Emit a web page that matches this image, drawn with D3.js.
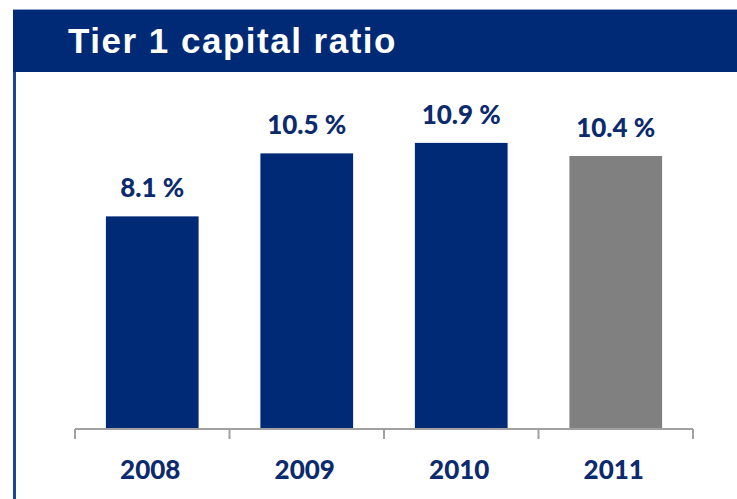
<!DOCTYPE html>
<html>
<head>
<meta charset="utf-8">
<script src="https://cdn.jsdelivr.net/npm/d3@7"></script>
<style>
  html, body { margin: 0; padding: 0; background: #fff; }
  svg { display: block; }
</style>
</head>
<body>
<svg id="chart" width="737" height="499"></svg>
<script>
const title = "Tier 1 capital ratio";
const years = ["2008", "2009", "2010", "2011"];
const ratios = [8.1, 10.5, 10.9, 10.4];
const valueLabels = ["8.1 %", "10.5 %", "10.9 %", "10.4 %"];
const barColors = ["#002A76", "#002A76", "#002A76", "#808080"];

const svg = d3.select("#chart");
const navy = "#002A76";

// header band
svg.append("rect").attr("x", 13).attr("y", 9).attr("width", 724).attr("height", 63).attr("fill", navy);
svg.append("line").attr("x1", 13).attr("x2", 737).attr("y1", 9.5).attr("y2", 9.5).attr("stroke", "#8FA3C8").attr("stroke-width", 1);
// left frame line
svg.append("rect").attr("x", 13).attr("y", 72).attr("width", 3).attr("height", 427).attr("fill", "#1A4699");
svg.append("text").attr("x", 68).attr("y", 53)
  .attr("font-family", "'Liberation Sans', Arial, sans-serif")
  .attr("font-weight", "bold").attr("font-size", 35).attr("letter-spacing", "1.5px")
  .attr("fill", "#fff").text(title);

const x = d3.scaleBand().domain(years).range([75, 693]).paddingInner(0.4).paddingOuter(0.2);
const y = d3.scaleLinear().domain([0, 12]).range([429, 114]);

// bars
svg.selectAll("rect.bar").data(years).enter().append("rect")
  .attr("class", "bar")
  .attr("x", d => x(d))
  .attr("width", x.bandwidth())
  .attr("y", (d, i) => y(ratios[i]))
  .attr("height", (d, i) => y(0) - y(ratios[i]))
  .attr("fill", (d, i) => barColors[i]);

// axis
const axisG = svg.append("g");
axisG.append("line").attr("x1", 75).attr("x2", 693).attr("y1", y(0)).attr("y2", y(0))
  .attr("stroke", "#A0A0A0").attr("stroke-width", 2);
const step = x.step();
const tickXs = d3.range(years.length + 1).map(i => 75 + i * step);
axisG.selectAll("line.tick").data(tickXs).enter().append("line")
  .attr("class", "tick")
  .attr("x1", d => d).attr("x2", d => d)
  .attr("y1", y(0)).attr("y2", y(0) + 10)
  .attr("stroke", "#A0A0A0").attr("stroke-width", 2);

// value labels
svg.selectAll("text.val").data(years).enter().append("text")
  .attr("class", "val")
  .attr("x", d => x(d) + x.bandwidth() / 2)
  .attr("y", (d, i) => y(ratios[i]) - 19)
  .attr("text-anchor", "middle")
  .attr("font-family", "Lato, 'Open Sans', sans-serif")
  .attr("font-weight", 900).attr("font-size", 26)
  .attr("fill", "#0C2A6E")
  .text((d, i) => valueLabels[i]);

// year labels
svg.selectAll("text.yr").data(years).enter().append("text")
  .attr("class", "yr")
  .attr("x", d => x(d) + x.bandwidth() / 2 - 2)
  .attr("y", 479)
  .attr("text-anchor", "middle")
  .attr("font-family", "Lato, 'Open Sans', sans-serif")
  .attr("font-weight", 900).attr("font-size", 26)
  .attr("fill", "#0C2A6E")
  .text(d => d);
</script>
</body>
</html>
